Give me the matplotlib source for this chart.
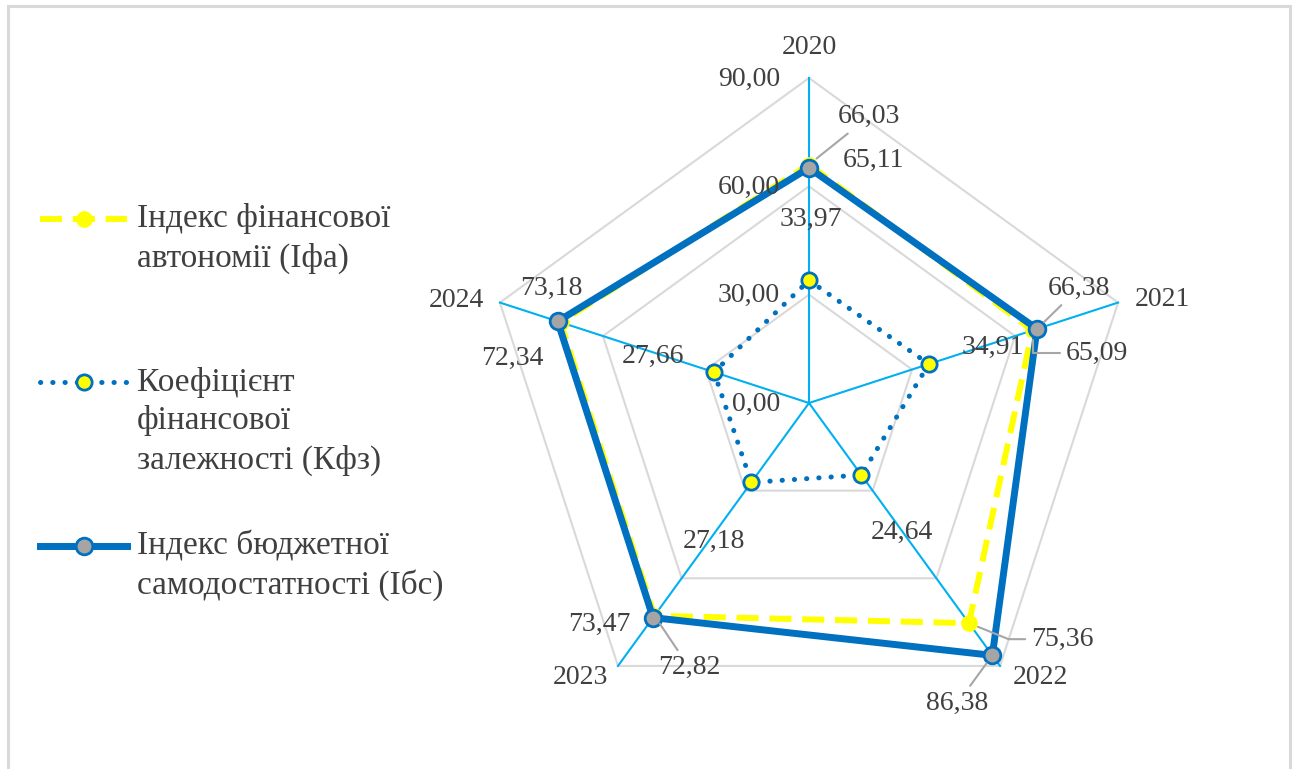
import numpy as np
import matplotlib
matplotlib.use("Agg")
import matplotlib.pyplot as plt
from matplotlib.patches import Rectangle

plt.rcParams['font.family'] = ['Liberation Serif', 'DejaVu Serif']

# дані
years = ["2020", "2021", "2022", "2023", "2024"]
ifa = np.array([66.03, 65.09, 75.36, 72.82, 72.34])   # Індекс фінансової автономії
kfz = np.array([33.97, 34.91, 24.64, 27.18, 27.66])   # Коефіцієнт фінансової залежності
ibs = np.array([65.11, 66.38, 86.38, 73.47, 73.18])   # Індекс бюджетної самодостатності
levels = [0, 30, 60, 90]
level_labels = ["0,00", "30,00", "60,00", "90,00"]

TXT = '#404040'
YELLOW = '#ffff00'
BLUE = '#0070c0'
SPOKE = '#00b0f0'
GRID = '#d9d9d9'

W, H = 1298, 769
cx, cy = 809, 403          # центр павутини, px
k = 325 / 90               # px на одиницю

fig = plt.figure(figsize=(W / 100, H / 100), dpi=100)
fig.patch.set_facecolor('white')
fig.patches.append(Rectangle((8 / W, -0.05), (1290 - 8) / W, (H - 6) / H + 0.05,
                             transform=fig.transFigure, fill=False,
                             edgecolor=GRID, linewidth=2.2))

ax = fig.add_axes([0, 0, 1, 1])
ax.set_xlim(-cx / k, (W - cx) / k)
ax.set_ylim(-(H - cy) / k, cy / k)
ax.axis('off')

ang = np.deg2rad(np.arange(5) * 72)


def to_xy(vals):
    vals = np.asarray(vals, dtype=float)
    return vals * np.sin(ang), vals * np.cos(ang)


def closed(a):
    return np.append(a, a[0])


# сітка
for lv in levels[1:]:
    gx, gy = to_xy([lv] * 5)
    ax.plot(closed(gx), closed(gy), color=GRID, lw=1.5, zorder=1)
ex, ey = to_xy([levels[-1]] * 5)
for x, y in zip(ex, ey):
    ax.plot([0, x], [0, y], color=SPOKE, lw=1.5, zorder=2)

# ряди
x1, y1 = to_xy(ifa)
ax.plot(closed(x1), closed(y1), color=YELLOW, lw=4.3, linestyle=(0, (3.7, 1.8)),
        zorder=3)
ax.plot(x1, y1, 'o', ms=11, mfc=YELLOW, mec=YELLOW, zorder=3)

x2, y2 = to_xy(kfz)
ax.plot(closed(x2), closed(y2), color=BLUE, lw=3.6, linestyle=(0, (0.05, 2.4)),
        dash_capstyle='round', zorder=4)
ax.plot(x2, y2, 'o', ms=11, mfc=YELLOW, mec=BLUE, mew=2, zorder=4)

x3, y3 = to_xy(ibs)
ax.plot(closed(x3), closed(y3), color=BLUE, lw=5, zorder=5)
ax.plot(x3, y3, 'o', ms=12, mfc='#a5a5a5', mec=BLUE, mew=2, zorder=5)

# підписи осі значень
for lv, lab in zip(levels, level_labels):
    ax.annotate(lab, (0, lv), xytext=(-29, -1), textcoords='offset pixels',
                ha='right', va='center', fontsize=20, color=TXT, zorder=6)

# підписи категорій
cat_off = [(0, 31), (44, 3), (40, -12), (-38, -12), (-44, 2)]
for yr, x, y, off in zip(years, ex, ey, cat_off):
    ax.annotate(yr, (x, y), xytext=off, textcoords='offset pixels',
                ha='center', va='center', fontsize=20, color=TXT, zorder=6)

# підписи даних
lead = dict(arrowstyle='-', color='#a6a6a6', lw=1.5, shrinkA=2, shrinkB=7)


def fmt(v):
    return f"{v:.2f}".replace('.', ',')


ifa_off = [(60, 48), (64, -23), (93, -16), (35, -52), (-48, -36)]
ifa_lead = [dict(lead), dict(lead, connectionstyle='angle,angleA=0,angleB=90,rad=0'),
            dict(lead, connectionstyle='angle,angleA=0,angleB=-22,rad=0'),
            dict(lead), None]
for x, y, v, off, ap in zip(x1, y1, ifa, ifa_off, ifa_lead):
    ax.annotate(fmt(v), (x, y), xytext=off, textcoords='offset pixels',
                ha='center', va='center', fontsize=20, color=TXT, zorder=6,
                arrowprops=ap)

kfz_off = [(2, 61), (64, 17), (41, -57), (-37, -59), (-61, 16)]
for x, y, v, off in zip(x2, y2, kfz, kfz_off):
    ax.annotate(fmt(v), (x, y), xytext=off, textcoords='offset pixels',
                ha='center', va='center', fontsize=20, color=TXT, zorder=6)

ibs_off = [(65, 7), (42, 41), (-35, -48), (-54, -7), (-6, 33)]
ibs_lead = [None, dict(lead), dict(lead), None, None]
for x, y, v, off, ap in zip(x3, y3, ibs, ibs_off, ibs_lead):
    ax.annotate(fmt(v), (x, y), xytext=off, textcoords='offset pixels',
                ha='center', va='center', fontsize=20, color=TXT, zorder=6,
                arrowprops=ap)

# легенда
lg = fig.add_axes([0, 0, 1, 1])
lg.set_xlim(0, W)
lg.set_ylim(H, 0)
lg.axis('off')
lg.patch.set_alpha(0)

legend_items = [
    ("Індекс фінансової\nавтономії (Іфа)", 219,
     dict(color=YELLOW, lw=4.3, linestyle=(0, (3.7, 1.8))),
     dict(mfc=YELLOW, mec=YELLOW, ms=11)),
    ("Коефіцієнт\nфінансової\nзалежності (Кфз)", 382,
     dict(color=BLUE, lw=3.6, linestyle=(0, (0.05, 2.4)), dash_capstyle='round'),
     dict(mfc=YELLOW, mec=BLUE, mew=2, ms=11)),
    ("Індекс бюджетної\nсамодостатності (Ібс)", 546,
     dict(color=BLUE, lw=5),
     dict(mfc='#a5a5a5', mec=BLUE, mew=2, ms=12)),
]
for label, y0, lstyle, mstyle in legend_items:
    lg.plot([40, 127], [y0, y0], **lstyle)
    lg.plot([84], [y0], 'o', **mstyle)
    for i, line in enumerate(label.split('\n')):
        lg.text(137, y0 + i * 39, line, ha='left', va='center',
                fontsize=24, color=TXT)

fig.savefig("out.png", dpi=100)
